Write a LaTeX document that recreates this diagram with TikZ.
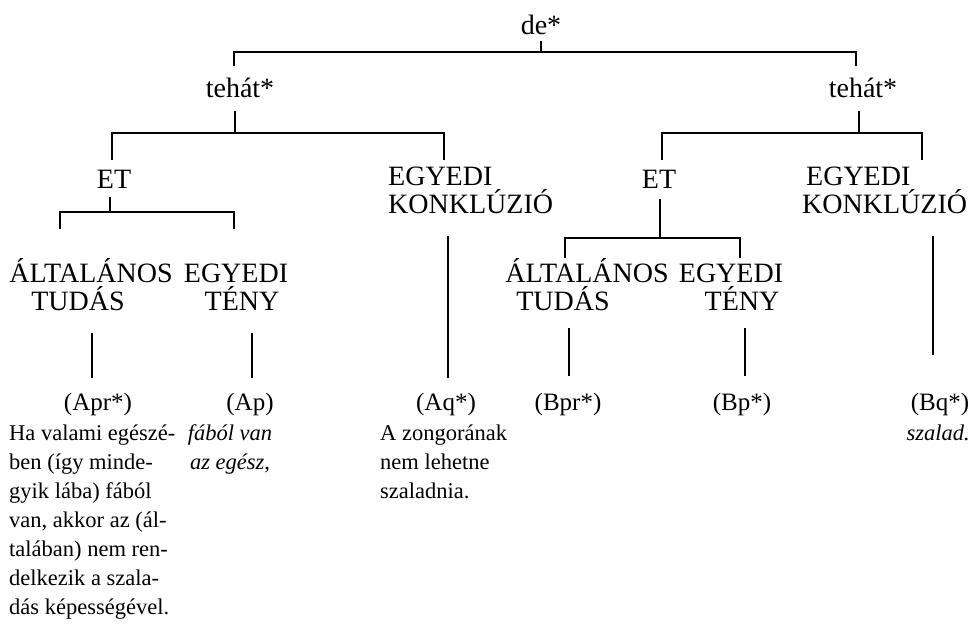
\documentclass[tikz,border=0pt]{standalone}
\usepackage{fontspec}
\setmainfont{Liberation Serif}
\begin{document}
\begin{tikzpicture}[x=1pt,y=-1pt,
  lbl/.style={font=\fontsize{28}{30}\selectfont, inner sep=0pt, anchor=base},
  lblw/.style={lbl, anchor=base west},
  ref/.style={font=\fontsize{25}{29}\selectfont, inner sep=0pt, anchor=base},
  body/.style={font=\fontsize{22.5}{29}\selectfont, inner sep=0pt, align=left, anchor=base west},
  br/.style={line width=2pt}]
\useasboundingbox (0,0) rectangle (972,627);

% ---- labels ----
\node[lbl] (de) at (541,34) {de*};
\node[lbl] (tL) at (240,97) {tehát*};
\node[lbl] (tR) at (863,97) {tehát*};

\node[lbl] (etL) at (114,188) {ET};
\node[lblw] (ekL1) at (388,185) {EGYEDI};
\node[lblw] (ekL2) at (388,213) {KONKLÚZIÓ};
\node[lbl] (etR) at (659,188) {ET};
\node[lblw] (ekR1) at (806,185) {EGYEDI};
\node[lblw] (ekR2) at (802,213) {KONKLÚZIÓ};

\node[lbl] (altL) at (91,282) {ÁLTALÁNOS};
\node[lbl] (tudL) at (78,310) {TUDÁS};
\node[lbl] (egyL) at (236,282) {EGYEDI};
\node[lbl] (tenL) at (242,310) {TÉNY};
\node[lbl] (altR) at (587,282) {ÁLTALÁNOS};
\node[lbl] (tudR) at (563,310) {TUDÁS};
\node[lbl] (egyR) at (731,282) {EGYEDI};
\node[lbl] (tenR) at (742,310) {TÉNY};

% ---- premise / conclusion references ----
\node[ref] (apr) at (98,410) {(Apr*)};
\node[ref] (ap)  at (250,410) {(Ap)};
\node[ref] (aq)  at (446,410) {(Aq*)};
\node[ref] (bpr) at (568,410) {(Bpr*)};
\node[ref] (bp)  at (742,410) {(Bp*)};
\node[ref] (bq)  at (940,410) {(Bq*)};

% ---- sentences (anchored at the baseline of their last line) ----
\node[body] (sApr) at (9,614) {Ha valami egészé-\\ben (így minde-\\gyik lába) fából\\van, akkor az (ál-\\talában) nem ren-\\delkezik a szala-\\dás képességével.};
\node[body, align=center, anchor=base] (sAp) at (230,469) {\textit{fából van}\\\textit{az egész},};
\node[body] (sAq) at (380,498) {A zongorának\\nem lehetne\\szaladnia.};
\node[body, anchor=base east] (sBq) at (970,440) {\textit{szalad.}};

% ---- bracket corners ----
\coordinate (a1) at (234,66);  \coordinate (a2) at (234,52);
\coordinate (a3) at (856,52);  \coordinate (a4) at (856,66);
\coordinate (b1) at (112,160); \coordinate (b2) at (112,133);
\coordinate (b3) at (444,133); \coordinate (b4) at (444,160);
\coordinate (c1) at (662,160); \coordinate (c2) at (662,133);
\coordinate (c3) at (922,133); \coordinate (c4) at (922,160);
\coordinate (d1) at (60,229);  \coordinate (d2) at (60,212);
\coordinate (d3) at (234,212); \coordinate (d4) at (234,229);
\coordinate (f1) at (565,258); \coordinate (f2) at (565,238);
\coordinate (f3) at (740,238); \coordinate (f4) at (740,258);

% stems
\coordinate (sDe) at (541,41);
\coordinate (sTL) at (235,111);
\coordinate (sTR) at (859,111);
\coordinate (sEL) at (110,197);
\coordinate (sER) at (660,199);
\coordinate (kL1) at (448,236); \coordinate (kL2) at (448,378);
\coordinate (kR1) at (933,236); \coordinate (kR2) at (933,355);
\coordinate (p1) at (92,333);  \coordinate (p2) at (92,378);
\coordinate (q1) at (252,333); \coordinate (q2) at (252,378);
\coordinate (r1) at (569,328); \coordinate (r2) at (569,376);
\coordinate (s1) at (745,328); \coordinate (s2) at (745,376);

% ---- connectors ----
\draw[br] (a1) -- (a2) -- (a3) -- (a4);
\draw[br] (sDe) -- (sDe |- a2);
\draw[br] (b1) -- (b2) -- (b3) -- (b4);
\draw[br] (sTL) -- (sTL |- b2);
\draw[br] (c1) -- (c2) -- (c3) -- (c4);
\draw[br] (sTR) -- (sTR |- c2);
\draw[br] (d1) -- (d2) -- (d3) -- (d4);
\draw[br] (sEL) -- (sEL |- d2);
\draw[br] (f1) -- (f2) -- (f3) -- (f4);
\draw[br] (sER) -- (sER |- f2);
\draw[br] (kL1) -- (kL2);
\draw[br] (kR1) -- (kR2);
\draw[br] (p1) -- (p2);
\draw[br] (q1) -- (q2);
\draw[br] (r1) -- (r2);
\draw[br] (s1) -- (s2);
\end{tikzpicture}
\end{document}
